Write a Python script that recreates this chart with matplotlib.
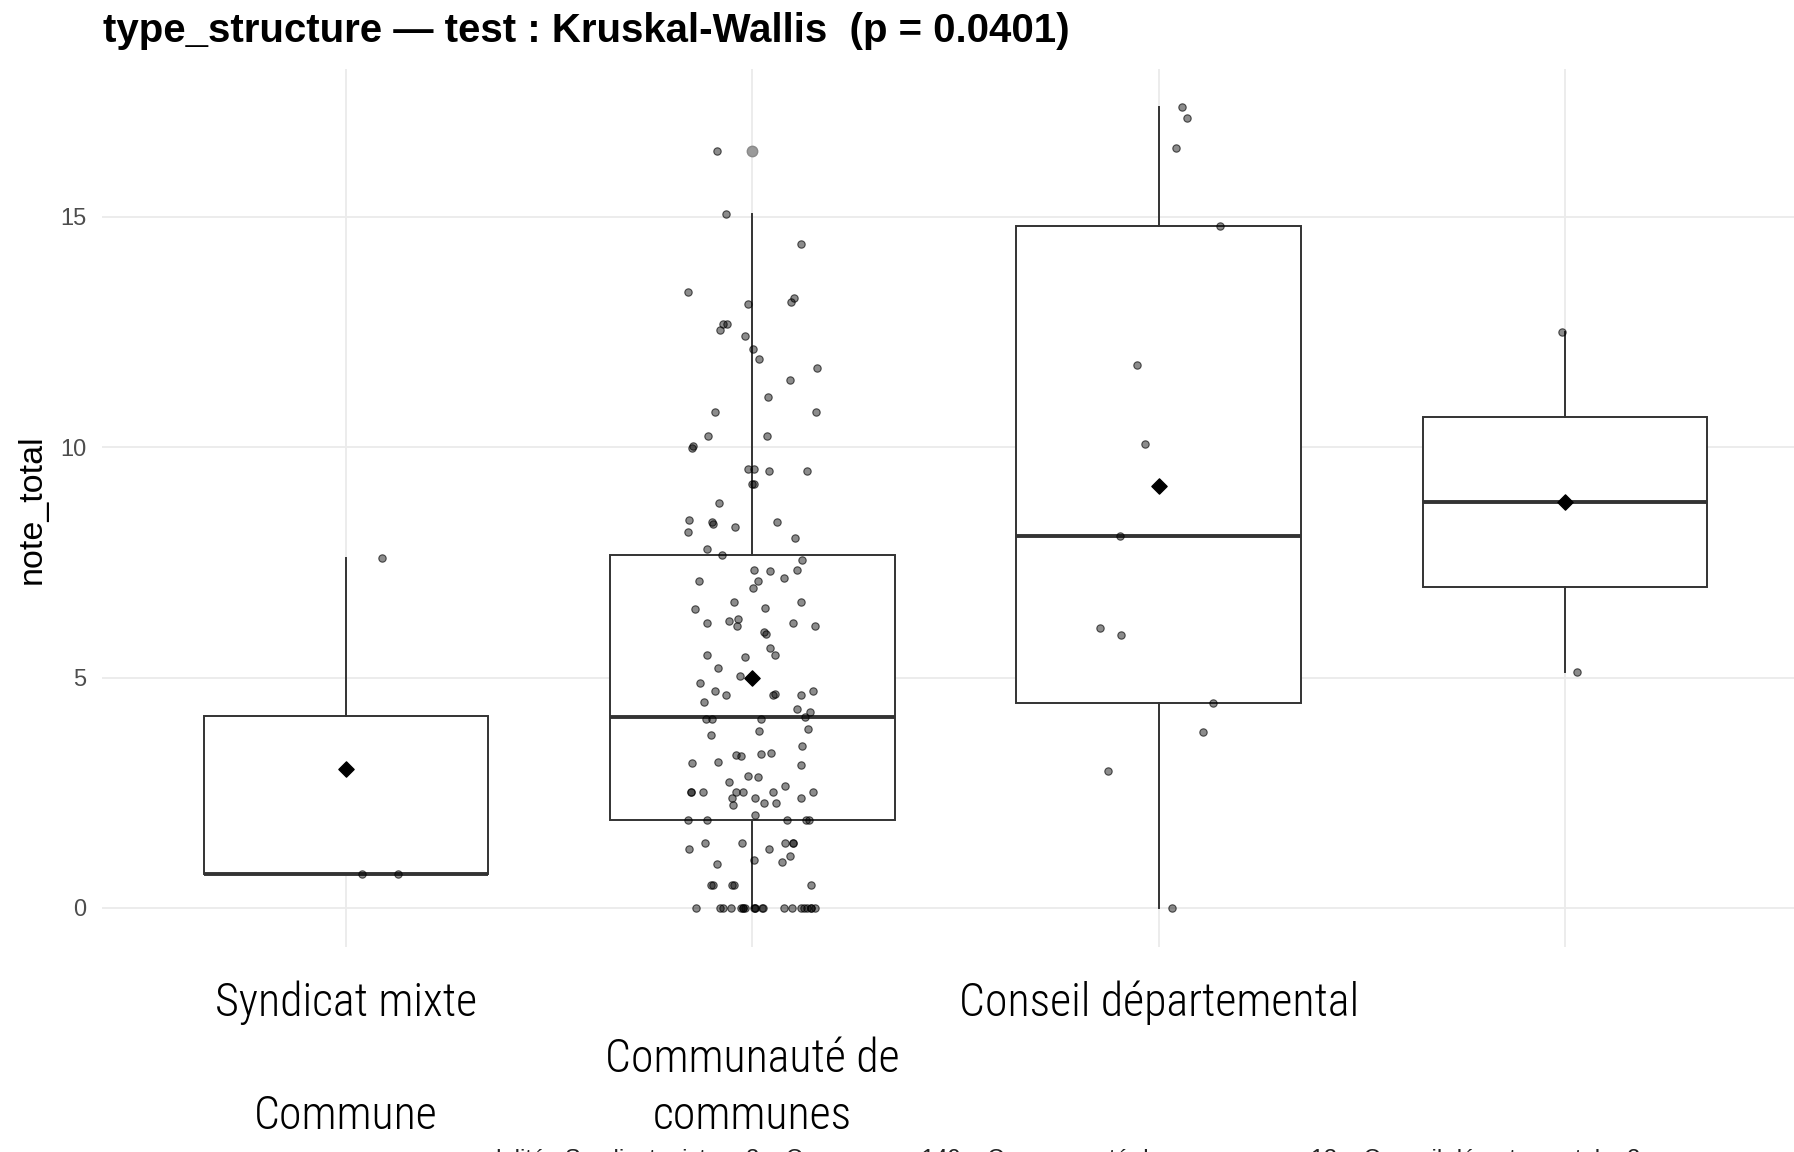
import matplotlib
matplotlib.use("Agg")
import matplotlib.pyplot as plt
import numpy as np

# values, one list per structure type
syndicat = [0.73, 0.73, 7.6]
communaute = [
    16.44, 15.07, 14.42, 13.37, 13.23, 13.15, 13.10, 12.68, 12.68, 12.54,
    12.41, 12.13, 11.91, 11.72, 11.45, 11.08, 10.76, 10.76, 10.25, 10.25,
    10.03, 9.98, 9.52, 9.52, 9.48, 9.48, 9.20, 9.20, 8.79, 8.43,
    8.38, 8.38, 8.33, 8.26, 8.15, 8.03, 7.78, 7.66,
    7.55, 7.33, 7.33, 7.32, 7.17, 7.09, 7.09, 6.95, 6.64, 6.64,
    6.50, 6.49, 6.27, 6.23, 6.18, 6.18, 6.12, 6.12, 5.99, 5.94,
    5.63, 5.49, 5.49, 5.45, 5.21, 5.03, 4.89, 4.71, 4.71, 4.64,
    4.62, 4.62, 4.62, 4.47, 4.31, 4.25, 4.15, 4.11, 4.11, 4.11,
    3.88, 3.84, 3.75, 3.52, 3.36, 3.33, 3.32, 3.29, 3.16, 3.15,
    3.11, 2.87, 2.83, 2.74, 2.65,
    2.51, 2.51, 2.51, 2.51, 2.51, 2.51, 2.51, 2.38, 2.38, 2.38,
    2.28, 2.28, 2.23, 2.01, 1.91, 1.91, 1.91, 1.91, 1.91,
    1.41, 1.41, 1.41, 1.41, 1.41, 1.27, 1.27, 1.13, 1.04, 1.00, 0.95,
    0.49, 0.49, 0.49, 0.49, 0.49,
    0, 0, 0, 0, 0, 0, 0, 0, 0, 0, 0, 0, 0, 0, 0, 0, 0, 0, 0, 0, 0,
]
conseil = [17.38, 17.14, 16.5, 14.81, 11.79, 10.08, 8.07, 6.07, 5.92, 4.44, 3.81, 2.98, 0.0]
groupe4 = [12.49, 5.13]

groups = [syndicat, communaute, conseil, groupe4]
xlabels = ["Syndicat mixte\n\nCommune", "\nCommunauté de\ncommunes", "Conseil départemental", ""]
yticks = [0, 5, 10, 15]
title = "type_structure \u2014 test : Kruskal-Wallis  (p = 0.0401)"
caption = ("n par modalité : Syndicat mixte = 3 ;  Commune = 149 ;  "
           "Communauté de communes = 13 ;  Conseil départemental = 2")

W, H = 1794, 1152
fig = plt.figure(figsize=(W / 100, H / 100), dpi=100)
ax = fig.add_axes([102 / W, 1 - 947 / H, (1809 - 102) / W, (947 - 69) / H])

positions = np.arange(1, len(groups) + 1)

# grid
for y in yticks:
    ax.axhline(y, color="#EBEBEB", lw=1.3, zorder=0)
for x in positions:
    ax.axvline(x, color="#EBEBEB", lw=1.3, zorder=0)

ax.boxplot(groups, positions=positions, widths=0.7, whis=1.5, patch_artist=True,
           boxprops=dict(facecolor="white", edgecolor="#333333", lw=1.4),
           medianprops=dict(color="#333333", lw=2.8),
           whiskerprops=dict(color="#333333", lw=1.4),
           capprops=dict(lw=0), showcaps=False,
           flierprops=dict(marker="o", markerfacecolor="#9A9A9A", markeredgecolor="#8A8A8A",
                           markersize=7.5),
           zorder=2)

# jittered points (horizontal jitter only)
rng = np.random.default_rng(7)
for pos, vals in zip(positions, groups):
    xs = pos + rng.uniform(-0.16, 0.16, len(vals))
    ax.scatter(xs, vals, s=28, facecolor=(0, 0, 0, 0.45), edgecolor=(0, 0, 0, 0.65),
               lw=0.8, zorder=3)

# means
means = [np.mean(g) for g in groups]
ax.scatter(positions, means, marker="D", s=60, color="black", zorder=4)

ax.set_xlim(0.4, 4.6)
ax.set_ylim(-0.85, 18.21)
ax.set_yticks(yticks)
ax.set_yticklabels([str(t) for t in yticks], color="#4D4D4D", fontsize=17,
                   family=["Liberation Sans", "DejaVu Sans"])
ax.set_xticks(positions)
ax.set_xticklabels(xlabels, fontsize=33, va="top", linespacing=1.36,
                   family=["Roboto Condensed", "Liberation Sans Narrow", "DejaVu Sans"],
                   fontweight="light", fontstretch="condensed")
ax.tick_params(axis="both", length=0)
ax.tick_params(axis="y", pad=11)
ax.tick_params(axis="x", pad=24)
for s in ax.spines.values():
    s.set_visible(False)

fig.text(103 / W, 1 - 31 / H, title, fontsize=29, fontweight="bold", va="center",
         family=["Liberation Sans", "DejaVu Sans"])
fig.text(32 / W, 1 - 509 / H, "note_total", fontsize=24.5, rotation=90, va="center", ha="center",
         family=["Liberation Sans", "DejaVu Sans"])
fig.text(395 / W, 1 - 1149 / H, caption, fontsize=17, va="top", ha="left", color="#222222",
         family=["Liberation Sans", "DejaVu Sans"])

fig.savefig("out.png", dpi=100)
